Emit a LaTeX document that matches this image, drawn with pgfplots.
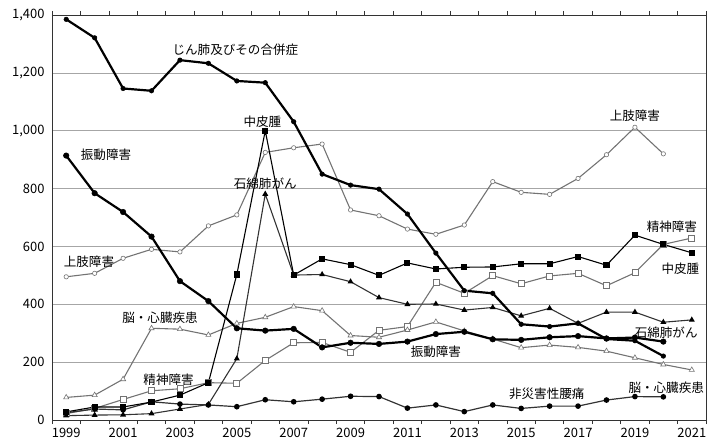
\documentclass[border=0pt]{standalone}
\usepackage{pgfplots}
\pgfplotsset{compat=1.18}
\usepackage{fontspec}
\setmainfont{Noto Sans CJK JP}
\definecolor{lg}{gray}{0.45}
\definecolor{dg}{gray}{0.2}
\tikzset{lab/.style={font=\fontsize{12.6}{14}\selectfont, inner sep=0pt}}
\begin{document}
\begin{tikzpicture}
\useasboundingbox (-52bp,-23bp) rectangle (662bp,420bp);
\begin{axis}[
  at={(0,0)}, anchor=south west,
  scale only axis, width=654bp, height=405bp,
  xmin=1998.5, xmax=2021.5, ymin=0, ymax=1400,
  xtick={1999,2001,...,2021},
  minor xtick={1998.5,1999.5,...,2021.5},
  ytick={0,200,...,1400},
  major tick length=0pt,
  minor tick length=4bp,
  tick align=outside,
  xticklabel style={font=\fontsize{13}{15}\selectfont, yshift=-5bp},
  yticklabel style={font=\fontsize{13}{15}\selectfont, xshift=-4bp},
  /pgf/number format/assume math mode=true,
  xticklabel={\pgfmathprintnumber[1000 sep={}]{\tick}},
  yticklabel={\pgfmathprintnumber[1000 sep={,}]{\tick}},
  ymajorgrids, grid style={gray!70, line width=0.6pt},
  axis line style={dg, line width=0.9pt},
  minor tick style={dg, line width=0.6pt},
  clip=false,
]
% 上肢障害
\addplot[lg, line width=1.1pt, mark=*, mark size=2.2pt, mark options={fill=white, draw=lg, line width=0.6pt}] coordinates {
(1999,495)(2000,507)(2001,559)(2002,590)(2003,581)(2004,671)(2005,709)(2006,925)(2007,941)(2008,954)(2009,726)(2010,706)(2011,660)(2012,642)(2013,674)(2014,824)(2015,787)(2016,780)(2017,835)(2018,917)(2019,1012)(2020,920)};
% 精神障害
\addplot[lg, line width=1.1pt, mark=square*, mark size=3pt, mark options={fill=white, draw=lg, line width=0.7pt}] coordinates {
(1999,22)(2000,40)(2001,71)(2002,101)(2003,108)(2004,129)(2005,127)(2006,206)(2007,267)(2008,268)(2009,234)(2010,310)(2011,323)(2012,476)(2013,438)(2014,499)(2015,471)(2016,498)(2017,507)(2018,464)(2019,509)(2020,607)(2021,629)};
% 脳・心臓疾患
\addplot[lg, line width=1.1pt, mark=triangle*, mark size=3pt, mark options={fill=white, draw=lg, line width=0.6pt}] coordinates {
(1999,78)(2000,86)(2001,141)(2002,317)(2003,314)(2004,294)(2005,334)(2006,355)(2007,392)(2008,378)(2009,292)(2010,286)(2011,311)(2012,339)(2013,308)(2014,280)(2015,250)(2016,259)(2017,251)(2018,238)(2019,215)(2020,192)(2021,173)};
% 非災害性腰痛
\addplot[dg, line width=1.2pt, mark=*, mark size=2.2pt, mark options={fill=black, draw=black}] coordinates {
(1999,25)(2000,38)(2001,35)(2002,63)(2003,55)(2004,52)(2005,46)(2006,70)(2007,63)(2008,72)(2009,82)(2010,81)(2011,41)(2012,52)(2013,29)(2014,52)(2015,40)(2016,48)(2017,48)(2018,69)(2019,81)(2020,80)};
% 石綿肺がん
\addplot[dg, line width=1.1pt, mark=triangle*, mark size=2.4pt, mark options={fill=black, draw=black}] coordinates {
(1999,15)(2000,17)(2001,18)(2002,22)(2003,38)(2004,54)(2005,212)(2006,781)(2007,501)(2008,503)(2009,478)(2010,423)(2011,400)(2012,401)(2013,380)(2014,389)(2015,360)(2016,386)(2017,334)(2018,373)(2019,373)(2020,338)(2021,346)};
% 中皮腫
\addplot[black, line width=1.1pt, mark=square*, mark size=2.5pt, mark options={fill=black, draw=black}] coordinates {
(1999,28)(2000,45)(2001,45)(2002,62)(2003,86)(2004,129)(2005,503)(2006,1000)(2007,501)(2008,557)(2009,537)(2010,500)(2011,543)(2012,522)(2013,528)(2014,529)(2015,540)(2016,540)(2017,565)(2018,535)(2019,639)(2020,607)(2021,578)};
% 振動障害
\addplot[black, line width=2.2pt, mark=*, mark size=2.8pt, mark options={fill=black, draw=black, line width=0.5pt}] coordinates {
(1999,914)(2000,784)(2001,719)(2002,634)(2003,480)(2004,411)(2005,317)(2006,309)(2007,315)(2008,251)(2009,267)(2010,263)(2011,271)(2012,297)(2013,305)(2014,279)(2015,277)(2016,286)(2017,290)(2018,282)(2019,285)(2020,271)};
% じん肺及びその合併症
\addplot[black, line width=2.2pt, mark=*, mark size=2.3pt, mark options={fill=black, draw=black, line width=0.5pt}] coordinates {
(1999,1385)(2000,1321)(2001,1146)(2002,1138)(2003,1244)(2004,1233)(2005,1172)(2006,1166)(2007,1031)(2008,850)(2009,812)(2010,798)(2011,712)(2012,577)(2013,447)(2014,438)(2015,331)(2016,323)(2017,334)(2018,280)(2019,274)(2020,221)};

\node[lab] at (axis cs:2004.95,1279) {じん肺及びその合併症};
\node[lab] at (axis cs:2000.4,916) {振動障害};
\node[lab] at (axis cs:2005.9,1030) {中皮腫};
\node[lab] at (axis cs:2006.0,816) {石綿肺がん};
\node[lab] at (axis cs:1999.8,546) {上肢障害};
\node[lab] at (axis cs:2019.0,1051) {上肢障害};
\node[lab] at (axis cs:2020.3,667) {精神障害};
\node[lab] at (axis cs:2020.6,522) {中皮腫};
\node[lab] at (axis cs:2020.1,301) {石綿肺がん};
\node[lab] at (axis cs:2020.1,111) {脳・心臓疾患};
\node[lab] at (axis cs:2015.9,90) {非災害性腰痛};
\node[lab] at (axis cs:2012.0,235) {振動障害};
\node[lab] at (axis cs:2002.3,353) {脳・心臓疾患};
\node[lab] at (axis cs:2002.6,138) {精神障害};
\end{axis}
\end{tikzpicture}
\end{document}
